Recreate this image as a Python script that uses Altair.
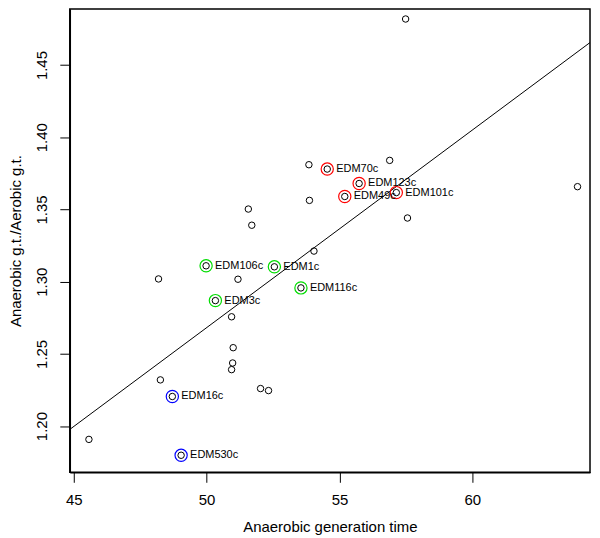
import altair as alt
import pandas as pd

# Data
xs = [57.49, 53.85, 54.54, 56.89, 55.74, 55.20, 57.14, 53.87, 57.56, 63.96,
      54.04, 51.57, 51.70, 49.98, 52.55, 53.55, 48.19, 51.18, 50.33, 50.94,
      51.00, 50.98, 50.94, 48.26, 48.71, 52.03, 52.33, 45.57, 49.04]
ys = [1.4819, 1.3810, 1.3780, 1.3840, 1.3680, 1.3590, 1.3617, 1.3563, 1.3441, 1.3658,
      1.3212, 1.3503, 1.3391, 1.3110, 1.3103, 1.2957, 1.3019, 1.3017, 1.2869, 1.2757,
      1.2543, 1.2437, 1.2391, 1.2320, 1.2205, 1.2260, 1.2246, 1.1908, 1.1798]
labels = ["", "", "EDM70c", "", "EDM123c", "EDM49c", "EDM101c", "", "", "",
          "", "", "", "EDM106c", "EDM1c", "EDM116c", "", "", "EDM3c", "",
          "", "", "", "", "EDM16c", "", "", "", "EDM530c"]
groups = ["", "", "red", "", "red", "red", "red", "", "", "",
          "", "", "", "green", "green", "green", "", "", "green", "",
          "", "", "", "", "blue", "", "", "", "blue"]

line_x = [44.85, 64.43]
line_y = [1.1977, 1.4656]

x_ticks = [45, 50, 55, 60]
y_ticks = [1.20, 1.25, 1.30, 1.35, 1.40, 1.45]

df = pd.DataFrame({"x": xs, "y": ys, "label": labels, "group": groups})
hl = df[df["group"] != ""]
ldf = pd.DataFrame({"x": line_x, "y": line_y})

FONT = "Liberation Sans"
xscale = alt.Scale(domain=[44.85, 64.43], nice=False, zero=False)
yscale = alt.Scale(domain=[1.168, 1.4889], nice=False, zero=False)

xaxis = alt.Axis(values=x_ticks, title="Anaerobic generation time", grid=False,
                 domain=True, domainColor="black", domainWidth=1.5,
                 tickSize=10, tickColor="black", labelColor="black",
                 labelFont=FONT, labelFontSize=15, labelPadding=10,
                 titleFont=FONT, titleFontSize=15, titleFontWeight="normal",
                 titleColor="black", titlePadding=12)
yaxis = alt.Axis(values=y_ticks, format=".2f", title="Anaerobic g.t./Aerobic g.t.",
                 grid=False, domain=True, domainColor="black", domainWidth=1.5,
                 tickSize=10, tickColor="black",
                 labelColor="black", labelFont=FONT, labelFontSize=15,
                 labelAngle=270, labelAlign="center", labelBaseline="alphabetic",
                 labelPadding=13, titleFont=FONT, titleFontSize=15,
                 titleFontWeight="normal", titleColor="black", titlePadding=11)

reg = alt.Chart(ldf).mark_line(color="black", strokeWidth=1).encode(
    x=alt.X("x:Q", scale=xscale, axis=xaxis),
    y=alt.Y("y:Q", scale=yscale, axis=yaxis))

pts = alt.Chart(df).mark_point(shape="circle", filled=False, color="black",
                               size=42, strokeWidth=1, opacity=1).encode(
    x=alt.X("x:Q", scale=xscale),
    y=alt.Y("y:Q", scale=yscale))

rings = alt.Chart(hl).mark_point(shape="circle", filled=False, size=150,
                                 strokeWidth=1.2, opacity=1).encode(
    x=alt.X("x:Q", scale=xscale),
    y=alt.Y("y:Q", scale=yscale),
    color=alt.Color("group:N",
                    scale=alt.Scale(domain=["red", "green", "blue"],
                                    range=["#ff0000", "#00dd00", "#0000ff"]),
                    legend=None))

texts = alt.Chart(hl).mark_text(align="left", baseline="middle", dx=9,
                                font=FONT, fontSize=11, color="black").encode(
    x=alt.X("x:Q", scale=xscale),
    y=alt.Y("y:Q", scale=yscale),
    text="label:N")

chart = alt.layer(reg, pts, rings, texts).properties(
    width=522, height=465,
    padding={"left": 0, "top": 0, "right": 0, "bottom": 0},
).configure_view(stroke="black", strokeWidth=1.5)

chart.save("out.html", embed_options={"renderer": "svg", "actions": False})
